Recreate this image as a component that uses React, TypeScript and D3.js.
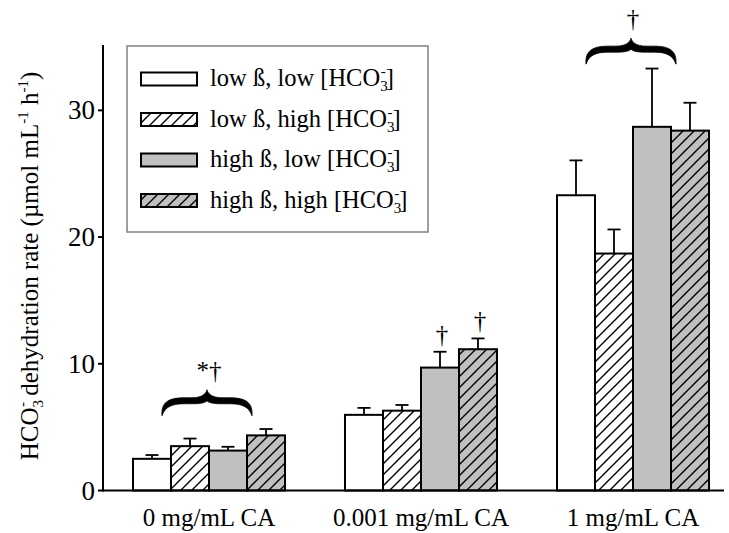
import React from "react";
import * as d3 from "d3";

const categories = ["0 mg/mL CA", "0.001 mg/mL CA", "1 mg/mL CA"];
const seriesNames = [
  "low ß, low",
  "low ß, high",
  "high ß, low",
  "high ß, high",
];
const lowLow = [2.5, 5.97, 23.3];
const lowHigh = [3.5, 6.3, 18.7];
const highLow = [3.15, 9.7, 28.7];
const highHigh = [4.35, 11.15, 28.4];
const lowLowErr = [0.3, 0.55, 2.75];
const lowHighErr = [0.6, 0.45, 1.9];
const highLowErr = [0.3, 1.25, 4.6];
const highHighErr = [0.5, 0.85, 2.2];
const yTicks = [0, 10, 20, 30];

const daggerMarks = [
  { cat: "0.001 mg/mL CA", series: 2, label: "†" },
  { cat: "0.001 mg/mL CA", series: 3, label: "†" },
];
const braceMarks = [
  { cat: "0 mg/mL CA", tip: 7.95, label: "*†" },
  { cat: "1 mg/mL CA", tip: 35.7, label: "†" },
];

const values = [lowLow, lowHigh, highLow, highHigh];
const errors = [lowLowErr, lowHighErr, highLowErr, highHighErr];
const fills = ["white", "url(#hatchWhite)", "#c0c0c0", "url(#hatchGray)"];

const W = 729;
const H = 533;
const FONT = "'Liberation Serif', 'Times New Roman', serif";

export default function App() {
  const y = d3.scaleLinear().domain([0, 35]).range([490.5, 47]);
  const x = d3
    .scaleBand<string>()
    .domain(categories)
    .range([103, 739])
    .paddingInner(0.283)
    .paddingOuter(0.1415);
  const xs = d3
    .scaleBand<string>()
    .domain(seriesNames)
    .range([0, x.bandwidth()]);

  const bw = xs.bandwidth();

  const brace = (cx: number, yTip: number) => {
    const half = 45;
    const x0 = cx - half;
    const x1 = cx + half;
    const yb = yTip + 26;
    const yA = yTip + 8;
    const yA2 = yA + 6;
    return [
      `M${x0},${yb}`,
      `C${x0 - 1},${yA + 5} ${x0 + 6},${yA} ${x0 + 22},${yA}`,
      `L${cx - 15},${yA}`,
      `C${cx - 5},${yA} ${cx - 1},${yTip + 4} ${cx},${yTip}`,
      `C${cx + 1},${yTip + 4} ${cx + 5},${yA} ${cx + 15},${yA}`,
      `L${x1 - 22},${yA}`,
      `C${x1 - 6},${yA} ${x1 + 1},${yA + 5} ${x1},${yb}`,
      `C${x1 - 3},${yA2 + 3} ${x1 - 10},${yA2} ${x1 - 22},${yA2}`,
      `L${cx + 14},${yA2}`,
      `C${cx + 6},${yA2} ${cx + 2},${yA2 - 1} ${cx},${yA2 - 3}`,
      `C${cx - 2},${yA2 - 1} ${cx - 6},${yA2} ${cx - 14},${yA2}`,
      `L${x0 + 22},${yA2}`,
      `C${x0 + 10},${yA2} ${x0 + 3},${yA2 + 3} ${x0},${yb}`,
      "Z",
    ].join(" ");
  };

  return (
    <svg
      width={W}
      height={H}
      style={{ position: "absolute", left: 0, top: 0, background: "white" }}
      fontFamily={FONT}
    >
      <defs>
        <pattern
          id="hatchWhite"
          patternUnits="userSpaceOnUse"
          width={11}
          height={11}
        >
          <rect width={11} height={11} fill="white" />
          <path
            d="M-1,1 L1,-1 M0,11 L11,0 M10,12 L12,10"
            stroke="black"
            strokeWidth={1.4}
          />
        </pattern>
        <pattern
          id="hatchGray"
          patternUnits="userSpaceOnUse"
          width={11}
          height={11}
        >
          <rect width={11} height={11} fill="#c0c0c0" />
          <path
            d="M-1,1 L1,-1 M0,11 L11,0 M10,12 L12,10"
            stroke="black"
            strokeWidth={1.4}
          />
        </pattern>
      </defs>

      {/* bars */}
      {categories.map((c, ci) =>
        seriesNames.map((s, si) => {
          const bx = (x(c) as number) + (xs(s) as number);
          const v = values[si][ci];
          const e = errors[si][ci];
          const cxp = bx + bw / 2;
          return (
            <g key={c + s}>
              <line
                x1={cxp}
                x2={cxp}
                y1={y(v)}
                y2={y(v + e)}
                stroke="black"
                strokeWidth={1.8}
              />
              <line
                x1={cxp - 6.5}
                x2={cxp + 6.5}
                y1={y(v + e)}
                y2={y(v + e)}
                stroke="black"
                strokeWidth={1.8}
              />
              <rect
                x={bx}
                y={y(v)}
                width={bw}
                height={y(0) - y(v)}
                fill={fills[si]}
                stroke="black"
                strokeWidth={2}
              />
            </g>
          );
        })
      )}

      {/* daggers */}
      {daggerMarks.map((d, i) => {
        const sName = seriesNames[d.series];
        const ci = categories.indexOf(d.cat);
        const cxp = (x(d.cat) as number) + (xs(sName) as number) + bw / 2;
        const top = values[d.series][ci] + errors[d.series][ci];
        return (
          <text
            key={"dg" + i}
            x={cxp + 2}
            y={y(top) - 9}
            textAnchor="middle"
            fontSize={25}
            fill="black"
          >
            {d.label}
          </text>
        );
      })}

      {/* braces */}
      {braceMarks.map((b, i) => {
        const cx = (x(b.cat) as number) + x.bandwidth() / 2 - 2;
        const tipY = y(b.tip);
        return (
          <g key={"br" + i}>
            <path d={brace(cx, tipY)} fill="black" stroke="black" strokeWidth={0.8} />
            <text
              x={cx + 2}
              y={tipY - 11}
              textAnchor="middle"
              fontSize={25}
              fill="black"
            >
              {b.label}
            </text>
          </g>
        );
      })}

      {/* axes */}
      <line x1={103} x2={103} y1={45} y2={491.5} stroke="black" strokeWidth={2} />
      <line x1={102} x2={724} y1={490.5} y2={490.5} stroke="black" strokeWidth={2} />
      {yTicks.map((t) => (
        <g key={"t" + t}>
          <line x1={98} x2={103} y1={y(t)} y2={y(t)} stroke="black" strokeWidth={2} />
          <text
            x={95}
            y={y(t)}
            textAnchor="end"
            dominantBaseline="central"
            fontSize={27}
          >
            {t}
          </text>
        </g>
      ))}
      {categories.map((c) => (
        <text
          key={"xl" + c}
          x={(x(c) as number) + x.bandwidth() / 2}
          y={526}
          textAnchor="middle"
          fontSize={25}
        >
          {c}
        </text>
      ))}

      {/* y title */}
      <text
        transform="translate(38,266) rotate(-90)"
        textAnchor="middle"
        fontSize={25}
      >
        HCO
        <tspan fontSize={15} dy={5}>3</tspan>
        <tspan fontSize={15} dx={-7} dy={-16}>-</tspan>
        <tspan fontSize={25} dy={11}> dehydration rate (µmol mL</tspan>
        <tspan fontSize={15} dy={-10}>-1</tspan>
        <tspan fontSize={25} dy={10}> h</tspan>
        <tspan fontSize={15} dy={-10}>-1</tspan>
        <tspan fontSize={25} dy={10}>)</tspan>
      </text>

      {/* legend */}
      <rect x={127} y={46} width={301} height={186} fill="white" stroke="#808080" strokeWidth={1.5} />
      {seriesNames.map((s, i) => {
        const cy = 79 + i * 40.5;
        return (
          <g key={"lg" + s}>
            <rect x={141} y={cy - 6.5} width={56} height={13} fill={fills[i]} stroke="black" strokeWidth={2} />
            <text x={210} y={cy + 7} fontSize={24.5}>
              {s} [HCO
              <tspan fontSize={15} dy={5}>3</tspan>
              <tspan fontSize={15} dx={-7} dy={-15}>-</tspan>
              <tspan fontSize={24.5} dy={10}>]</tspan>
            </text>
          </g>
        );
      })}
    </svg>
  );
}
